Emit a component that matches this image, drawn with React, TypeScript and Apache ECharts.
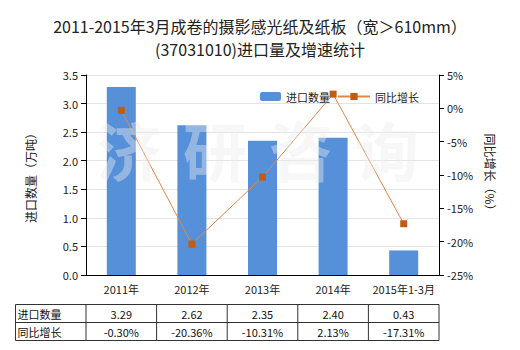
import React, { useEffect, useRef } from "react";
import * as echarts from "echarts";

const categories = ["2011年", "2012年", "2013年", "2014年", "2015年1-3月"];
const importQty = [3.29, 2.62, 2.35, 2.4, 0.43];
const growth = [-0.3, -20.36, -10.31, 2.13, -17.31];
const qtyLabels = ["3.29", "2.62", "2.35", "2.40", "0.43"];
const growthLabels = ["-0.30%", "-20.36%", "-10.31%", "2.13%", "-17.31%"];
const rowNames = ["进口数量", "同比增长"];
const watermarkChars = ["济", "研", "咨", "询"];

const FONT = "'Noto Sans CJK SC', 'Noto Sans', sans-serif";
const GRID = { left: 86, right: 81, top: 75, bottom: 75 };

export default function App() {
  const ref = useRef<HTMLDivElement>(null);
  useEffect(() => {
    document.body.style.margin = "0";
    if (!ref.current) return;
    const chart = echarts.init(ref.current, undefined, { renderer: "svg" });
    const option: any = {
      animation: false,
      backgroundColor: "#fff",
      textStyle: { fontFamily: FONT },
      title: {
        text: "2011-2015年3月成卷的摄影感光纸及纸板（宽＞610mm）\n(37031010)进口量及增速统计",
        left: "center",
        top: 9,
        textStyle: { fontSize: 16, fontWeight: "normal", color: "#222", lineHeight: 23, fontFamily: FONT },
      },
      legend: [
        {
          data: ["进口数量"],
          left: 255,
          top: 86,
          itemWidth: 21,
          itemHeight: 9,
          textStyle: { fontSize: 11, color: "#222", fontFamily: FONT },
        },
        {
          data: ["同比增长"],
          left: 332,
          top: 86,
          itemWidth: 32,
          itemHeight: 9,
          textStyle: { fontSize: 11, color: "#222", fontFamily: FONT },
        },
      ],
      grid: { ...GRID, outerBoundsMode: "none" },
      xAxis: {
        type: "category",
        data: categories,
        axisLine: { lineStyle: { color: "#000" } },
        axisTick: { alignWithLabel: true, lineStyle: { color: "#000" } },
        axisLabel: { fontSize: 11, color: "#222", margin: 8, interval: 0, hideOverlap: false },
      },
      yAxis: [
        {
          type: "value",
          min: 0,
          max: 3.5,
          interval: 0.5,
          name: "进口数量（万吨）",
          nameLocation: "middle",
          nameGap: 50,
          nameRotate: 90,
          nameTextStyle: { fontSize: 12, color: "#222" },
          axisLine: { show: true, lineStyle: { color: "#000" } },
          axisTick: { show: true, lineStyle: { color: "#000" } },
          axisLabel: { fontSize: 11, color: "#222", formatter: (v: number) => v.toFixed(1) },
          splitLine: { lineStyle: { color: "#e4e4e4" } },
        },
        {
          type: "value",
          min: -25,
          max: 5,
          interval: 5,
          name: "同比增长（%）",
          nameLocation: "middle",
          nameGap: 45,
          nameRotate: -90,
          nameTextStyle: { fontSize: 12, color: "#222" },
          axisLine: { show: true, lineStyle: { color: "#000" } },
          axisTick: { show: true, lineStyle: { color: "#000" } },
          axisLabel: { fontSize: 11, color: "#222", formatter: "{value}%" },
          splitLine: { show: false },
        },
      ],
      series: [
        {
          name: "进口数量",
          type: "bar",
          data: importQty,
          barWidth: 29,
          itemStyle: { color: "#5590D8" },
          z: 2,
        },
        {
          name: "同比增长",
          type: "line",
          yAxisIndex: 1,
          data: growth,
          symbol: "rect",
          symbolSize: 7,
          lineStyle: { color: "#E2864A", width: 1 },
          itemStyle: { color: "#C65A10" },
          z: 5,
        },
      ],
    };
    chart.setOption(option);

    const n = categories.length;
    const centers = categories.map((c, i) => chart.convertToPixel({ xAxisIndex: 0 }, i) as number);
    const band = centers.length > 1 ? centers[1] - centers[0] : 70;
    const tLeft = 15.5;
    const colStart = centers[0] - band / 2;
    const tRight = centers[n - 1] + band / 2;
    const rowY = [304.5, 322.5, 340.5];
    const lineStyle = { stroke: "#333", lineWidth: 1 };
    const g: any[] = [];
    // watermark
    watermarkChars.forEach((ch, i) => {
      g.push({
        type: "text",
        silent: true,
        z: 10,
        x: 97 + i * 86,
        y: 116,
        style: {
          text: ch,
          fontSize: 64,
          lineHeight: 64,
          fontWeight: "bold",
          fontFamily: FONT,
          verticalAlign: "top",
          fill: "rgba(236,236,236,0.42)",
        },
      });
    });
    // table borders
    rowY.forEach((y) => {
      g.push({ type: "line", shape: { x1: tLeft, y1: y, x2: tRight, y2: y }, style: lineStyle });
    });
    const vx = [tLeft, colStart, ...centers.map((c) => c + band / 2)];
    vx.forEach((x) => {
      g.push({ type: "line", shape: { x1: x, y1: rowY[0], x2: x, y2: rowY[2] }, style: lineStyle });
    });
    const rows = [qtyLabels, growthLabels];
    rowNames.forEach((name, r) => {
      const cy = (rowY[r] + rowY[r + 1]) / 2;
      g.push({
        type: "text",
        x: tLeft + 2,
        y: cy,
        style: { text: name, fontSize: 11, fontFamily: FONT, fill: "#111", verticalAlign: "middle", align: "left" },
      });
      rows[r].forEach((t, i) => {
        g.push({
          type: "text",
          x: centers[i],
          y: cy,
          style: { text: t, fontSize: 11, fontFamily: FONT, fill: "#111", verticalAlign: "middle", align: "center" },
        });
      });
    });
    chart.setOption({ graphic: g });
    return () => chart.dispose();
  }, []);
  return <div ref={ref} style={{ width: 520, height: 350 }} />;
}
